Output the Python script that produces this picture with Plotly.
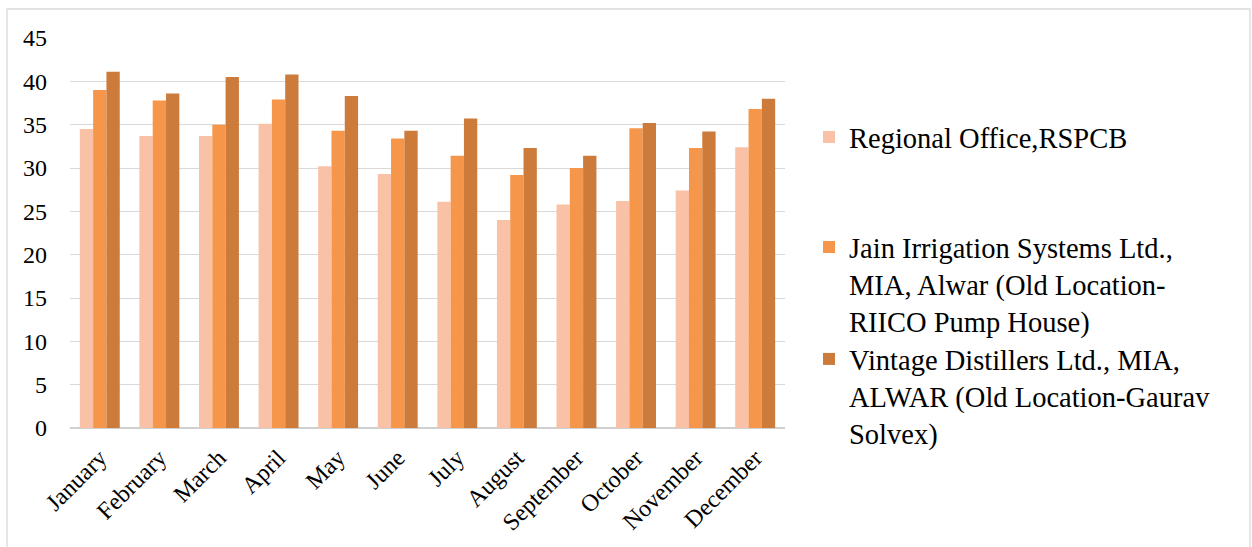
import plotly.graph_objects as go

# Monthly values for three monitoring stations
months = ["January", "February", "March", "April", "May", "June",
          "July", "August", "September", "October", "November", "December"]

regional_office = [34.5, 33.7, 33.7, 35.1, 30.2, 29.3, 26.1, 24.0, 25.8, 26.2, 27.4, 32.4]
jain_irrigation = [39.0, 37.8, 35.0, 37.9, 34.3, 33.4, 31.4, 29.2, 30.0, 34.6, 32.3, 36.8]
vintage_distillers = [41.1, 38.6, 40.5, 40.8, 38.3, 34.3, 35.7, 32.3, 31.4, 35.2, 34.2, 38.0]

series_names = [
    "Regional Office,RSPCB",
    "Jain Irrigation Systems Ltd.,<br>MIA, Alwar (Old Location-<br>RIICO Pump House)",
    "Vintage Distillers Ltd., MIA,<br>ALWAR (Old Location-Gaurav<br>Solvex)",
]
series_values = [regional_office, jain_irrigation, vintage_distillers]
series_colors = ["#F9C1A5", "#F5964A", "#CD7B3A"]
legend_ids = ["legend", "legend2", "legend3"]
legend_y = [0.745, 0.368, 0.081]

y_ticks = [0, 5, 10, 15, 20, 25, 30, 35, 40, 45]

SERIF = "Liberation Serif, Times New Roman, serif"

fig = go.Figure()
for name, vals, color, lg in zip(series_names, series_values, series_colors, legend_ids):
    fig.add_trace(go.Bar(
        x=months, y=vals, name=name, legend=lg, showlegend=True,
        marker=dict(color=color, line=dict(width=0)),
    ))

legend_common = dict(
    x=1.0336, xanchor="left", yanchor="middle",
    font=dict(family=SERIF, size=28.5, color="black"),
    bgcolor="rgba(0,0,0,0)", borderwidth=0, valign="top",
    itemclick=False, itemdoubleclick=False,
)

fig.update_layout(
    width=1252, height=547,
    margin=dict(l=70, r=467, t=38, b=119),
    paper_bgcolor="white", plot_bgcolor="white",
    showlegend=True,
    barmode="group", bargap=0.33, bargroupgap=0,
    font=dict(family=SERIF, size=24, color="black"),
    legend=dict(**legend_common, y=legend_y[0]),
    legend2=dict(**legend_common, y=legend_y[1]),
    legend3=dict(**legend_common, y=legend_y[2]),
    xaxis=dict(
        tickangle=-45, showgrid=False, showline=False, zeroline=False,
        tickfont=dict(family=SERIF, size=24, color="black"),
        ticklabelstandoff=10,
    ),
    yaxis=dict(
        range=[0, 45], tickvals=y_ticks, showgrid=True,
        gridcolor="#D9D9D9", gridwidth=1.3,
        zeroline=True, zerolinecolor="#D0D0D0", zerolinewidth=2,
        showline=False,
        tickfont=dict(family=SERIF, size=24, color="black"),
        ticklabelstandoff=22,
    ),
    shapes=[dict(
        type="rect", xref="paper", yref="paper",
        x0=(7 - 70) / 715, x1=(1250 - 70) / 715,
        y0=(428 - 600) / 390, y1=(428 - 9) / 390,
        line=dict(color="#D9D9D9", width=1.3), fillcolor="rgba(0,0,0,0)",
        layer="below",
    )],
)

fig.write_html("out.html")
